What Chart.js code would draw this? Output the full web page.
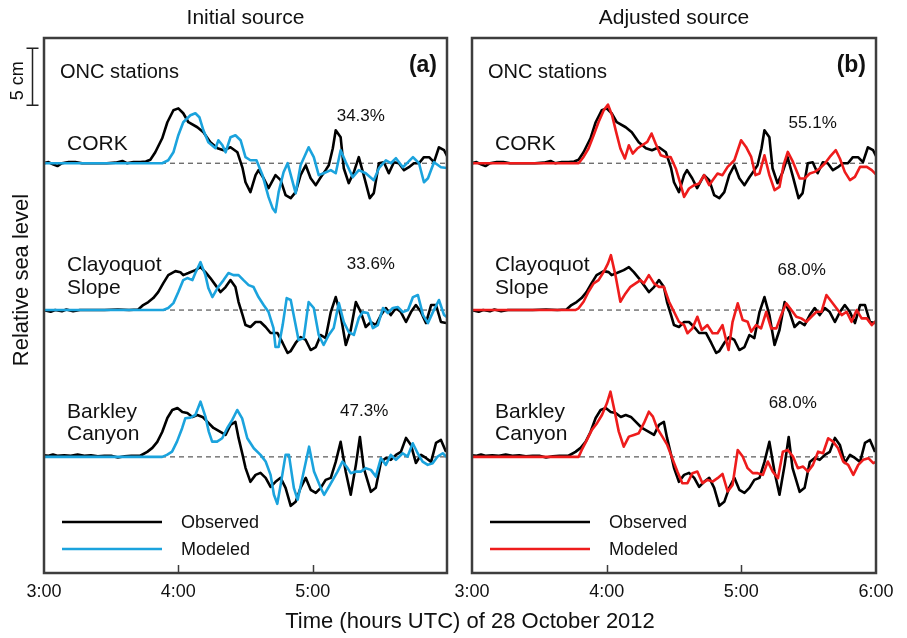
<!DOCTYPE html>
<html>
<head>
<meta charset="utf-8">
<title>ONC stations - observed and modeled sea level</title>
<script src="https://cdn.jsdelivr.net/npm/chart.js@4.4.0/dist/chart.umd.min.js"></script>
<style>
  body { margin: 0; background: #fff; }
  #wrap { position: relative; width: 907px; height: 638px; }
  #wrap canvas { position: absolute; left: 0; top: 0; }
</style>
</head>
<body>
<div id="wrap">
  <canvas id="panelA" width="907" height="638"></canvas>
  <canvas id="panelB" width="907" height="638"></canvas>
</div>

<script>
  // time in minutes after 3:00 UTC, sea level in cm (relative to each station's zero)
  const hours = ['3:00', '4:00', '5:00', '6:00'];
  const stationNames = [['CORK'], ['Clayoquot', 'Slope'], ['Barkley', 'Canyon']];
  const fitInitial = ['34.3%', '33.6%', '47.3%'];
  const fitAdjusted = ['55.1%', '68.0%', '68.0%'];

  const corkObserved = [[0,0],[2,0.1],[4,-0.1],[6,-0.25],[8,0],[11,0.1],[14,0.1],[17,0],[22,0],[28,0],[32,0.05],[35,0.2],[37,0],[40,0.1],[43,0.1],
    [45.5,0.15],[47.5,0.3],[49.7,0.96],[52.8,2.19],[55.1,3.6],[57.8,4.65],[60,4.82],[62.2,4.39],[64.5,3.6],[68.5,3.16],[71.2,2.72],[74.3,1.84],
    [77.5,1.32],[80.2,1.14],[83.3,1.4],[86.4,0.96],[88.7,-0.44],[90,-1.67],[92.2,-2.54],[94.5,-1.05],[95.8,-0.61],[98.1,-1.32],[100.3,-2.19],
    [103.4,-1.05],[105.7,-1.49],[107.9,-2.81],[110.2,-3.07],[112.4,-2.54],[114.6,-1.05],[116.9,-0.18],[119.1,-1.32],[121.4,-1.93],[123.6,-1.23],
    [125.8,-0.61],[127.2,-0.18],[129,1.32],[130.3,2.89],[132.5,2.28],[133.9,-0.44],[136.1,-1.75],[138.4,-0.79],[140.6,0.53],[142.8,-1.05],
    [145.5,-3.07],[147.3,-2.63],[149.6,0],[151.8,0.09],[154,-0.88],[156.3,0.09],[158.5,0],[160.8,-0.61],[163,-0.35],[165.2,0],[167.5,0],
    [169.7,0.53],[172,0.53],[174.2,0.09],[176.4,1.4],[178.7,1.14],[180.5,0.44]];

  const clayObserved = [[0,0],[3,-0.15],[5,0],[8,-0.1],[10,0.05],[13,-0.1],[16,0],[20,0],[27,0],[33,0.05],[38,0],[42.1,0.05],[44.3,0.44],
    [46.6,0.7],[48.8,1.05],[51,1.58],[53.3,2.37],[55.5,3.07],[58.7,3.42],[60.9,3.33],[62.2,3.07],[64.5,3.25],[67.6,3.51],[69.9,3.77],[72.1,3.33],
    [74.3,2.81],[76.6,2.19],[78.8,1.58],[81.1,2.02],[83.3,2.63],[85.5,2.02],[86.9,0.7],[88.7,-0.44],[90,-1.32],[92.2,-1.49],[94.5,-1.05],
    [96.7,-1.05],[99,-1.49],[101.2,-2.02],[104.3,-2.02],[106.6,-2.89],[108.8,-3.77],[110.2,-3.6],[112.4,-2.89],[114.6,-2.37],[116.9,-2.63],
    [119.1,-3.51],[121.4,-3.25],[123.6,-2.19],[125.8,-2.46],[128.1,-0.18],[130.3,1.14],[132.5,-0.44],[134.8,-3.07],[137,-1.75],[139.3,0.7],
    [141.5,-0.18],[143.7,-1.49],[146,-1.05],[148.2,-1.32],[150.5,-0.44],[152.7,0.18],[154.9,-0.44],[157.2,0.18],[159.4,-0.18],[161.7,-1.05],
    [163.9,-0.18],[166.1,0.44],[168.4,-0.18],[170.6,-1.14],[172.9,0.44],[175.1,0.44],[177.3,-1.05],[179.6,-1.14]];

  const barkObserved = [[0,0.15],[2,0.1],[4,0.2],[6,0.1],[9,0.15],[12,0.1],[15,0.2],[18,0.1],[21,0.15],[24,0.05],[27,0.1],[30,0.1],[33,-0.05],
    [36,0.05],[39,0.1],[43,0.1],[46.1,0.44],[48.4,0.79],[50.6,1.32],[52.8,2.19],[55.1,3.42],[57.3,4.12],[59.6,4.3],[61.8,3.95],[64,3.86],
    [66.3,3.51],[68.5,3.68],[70.8,3.51],[73,3.07],[75.7,2.54],[78.8,2.19],[81.1,1.93],[83.3,2.81],[85.5,3.07],[86.9,1.67],[88.7,0.18],[90,-0.96],
    [92.2,-2.19],[94.5,-1.58],[96.7,-1.4],[99,-1.84],[101.2,-2.63],[103.4,-2.19],[105.7,-1.84],[107.9,-2.72],[110.2,-4.3],[112.4,-3.95],
    [114.6,-2.72],[116.9,-1.84],[119.1,-2.89],[121.4,-3.16],[123.6,-2.72],[125.8,-2.02],[128.1,-1.84],[130.3,-0.44],[132.5,1.32],[134.8,-1.32],
    [137,-3.33],[139.3,-0.7],[141.1,1.75],[142.8,-0.96],[146,-3.07],[148.2,-2.72],[150.5,-0.44],[152.7,-0.09],[154.9,-0.26],[157.2,0.18],
    [159.4,0.44],[161.7,1.67],[163.9,1.05],[166.1,-0.53],[168.4,0.18],[170.6,-0.09],[172.9,-0.44],[175.1,1.23],[177.3,1.49],[179.6,0.44]];

  // (a) initial source
  const corkInitial = [[0,0],[52.8,0],[55.5,0.26],[57.8,0.96],[60,2.46],[62.2,3.6],[65.4,4.21],[67.6,4.39],[69.4,4.04],[71.2,2.89],[73.4,1.84],
    [76.6,1.32],[77.9,2.02],[79.7,1.58],[81.1,0.96],[83.3,2.28],[85.5,2.46],[87.8,2.02],[90,0.53],[92.2,0.26],[94.9,0.26],[97.6,-1.05],
    [100.3,-2.98],[102.1,-3.95],[103.4,-4.3],[104.8,-2.54],[107,-0.79],[108.8,0],[112.4,-2.63],[114.6,-0.18],[118.2,1.4],[120.5,0.53],
    [122.7,-1.05],[124.9,-0.88],[128.1,-0.61],[130.3,-0.88],[132.5,1.14],[134.8,0.09],[137.9,-1.23],[140.6,-0.61],[143.7,-0.88],[147.3,-1.49],
    [149.6,-0.44],[152.7,0.26],[154.9,0],[157.2,0.44],[160.3,-0.35],[162.6,0.09],[164.8,0.53],[167.5,0],[169.7,-1.67],[171.5,-1.32],
    [174.2,0.09],[177.3,-0.35],[180.5,-0.44]];

  const clayInitial = [[0,0],[53.3,0],[55.5,0.18],[57.8,0.61],[60,1.58],[62.2,2.63],[64,2.81],[66.3,2.63],[67.6,3.25],[69.9,4.21],[72.1,3.07],
    [73.4,1.93],[75.2,1.14],[77.5,1.93],[80.2,2.63],[82.4,3.25],[84.6,3.07],[86.9,3.07],[89.1,2.63],[91.4,2.19],[93.6,2.02],[95.8,1.14],
    [98.1,0.44],[100.3,-0.18],[102.5,-1.58],[103.4,-3.25],[104.8,-3.25],[106.6,-1.32],[108.4,1.05],[110.2,0.88],[113.7,-2.63],[116,-2.46],
    [118.2,0.7],[120.5,0.18],[122.7,-2.19],[124.9,-3.07],[127.2,-2.19],[129.4,-1.58],[131.7,0.61],[133.9,-1.05],[136.1,-1.93],[138.4,-2.19],
    [140.6,-0.7],[142.4,-0.18],[144.6,-0.26],[146.9,-1.58],[149.1,-1.32],[151.4,0.18],[153.6,-0.26],[155.8,0.18],[158.1,0.26],[160.3,-0.18],
    [162.6,0],[164.8,1.14],[167,1.32],[169.3,-0.44],[171.5,-1.14],[173.7,-0.18],[176.4,0.88],[178.7,-0.44],[180.5,-0.7]];

  const barkInitial = [[0,0],[52.8,0],[54.9,0.18],[57.2,0.46],[59.4,1.34],[61.7,2.52],[63.1,3.39],[65.4,3.45],[67.6,3.68],[69.9,4.85],
    [72.1,3.54],[73.6,2.22],[75.1,1.34],[77.3,1.34],[79.6,1.64],[81.8,2.52],[84.1,3.25],[86.3,4.12],[88.5,3.39],[90.8,1.64],[93.7,0.76],
    [96.7,0.18],[99,-0.41],[101.2,-1.58],[102.7,-3.33],[104.2,-4.12],[105.7,-2.46],[107.9,0.18],[109.4,0.18],[111.6,-2.72],[113.3,-3.77],
    [118.4,0.9],[120.6,-1.29],[123.6,-2.72],[125.1,-3.33],[127.3,-2.6],[131.1,-1.29],[133.3,-0.41],[135.6,-0.99],[137,-1.43],[139.3,-1.29],
    [141.5,-1.29],[143.7,-0.99],[146,-1.14],[148.2,-1.73],[150.5,-0.11],[152.7,-0.7],[154.9,0.18],[157.2,-0.26],[160.2,0.32],[162.4,0.03],
    [164.7,1.2],[166.9,0.32],[169.1,-0.41],[171.4,-0.7],[173.6,-0.55],[175.8,0.03],[178.1,0.32],[180.3,-0.11]];

  // (b) adjusted source
  const corkAdjusted = [[0,0],[47.5,0],[49.7,0.55],[51.9,1.29],[54.2,2.46],[56.4,3.62],[58.7,4.65],[60.6,5.15],[62.4,4.21],[64.2,2.75],
    [66.1,1.29],[68.1,0.41],[69.9,1.58],[71.6,0.85],[73.6,1.29],[75.8,1.58],[78.1,1.87],[80,2.61],[81.8,1.73],[84.1,0.7],[86.3,0.55],[88.5,0.55],
    [90.8,-0.46],[92.6,-1.64],[94.5,-2.96],[96.7,-2.22],[99,-1.93],[101.2,-1.78],[103.4,-1.05],[105.7,-1.93],[107.2,-1.49],[109.4,-0.9],
    [111.6,-1.05],[113.9,-0.32],[116.9,0.26],[118.4,1.14],[119.9,2.02],[122.1,1.43],[124.4,0.55],[126.3,-1.05],[128.1,-0.9],[130.3,0.7],
    [132.5,-1.05],[134.8,-2.37],[137,-2.08],[138.8,-0.18],[140.7,0.99],[143,0.11],[146,-1.34],[148.2,-1.34],[150.5,-0.9],[152.7,-0.76],
    [154.9,-0.46],[157.2,-0.03],[159.4,0.55],[162.1,1.14],[163.9,0.41],[166.1,-0.76],[168.4,-1.49],[170.6,-1.2],[172.9,-0.32],[175.9,-0.32],
    [178.1,-0.61],[180.3,-1.05]];

  const clayAdjusted = [[0,0],[46,0],[47.5,0.15],[49.7,0.73],[51.9,1.61],[54.2,2.34],[56.4,2.63],[58.7,3.36],[60.6,4.1],[61.9,4.82],[63.9,3.07],
    [66.1,0.73],[68.4,1.46],[70.6,2.04],[72.9,2.34],[75.1,2.63],[76.6,2.34],[78.8,3.07],[81.1,2.34],[83.3,2.04],[85.5,2.04],[87.8,0.73],
    [90,-0.15],[92.2,-1.03],[94.5,-1.32],[96,-2.04],[98.2,-1.61],[100.4,-0.59],[102.4,-1.75],[104.9,-1.32],[107.2,-2.04],[109.4,-2.04],
    [111.6,-1.32],[114.3,-3.51],[116.1,-1.03],[118.4,0.59],[120.6,-0.88],[122.8,-1.03],[124.4,-1.9],[126.6,-1.32],[128.8,-1.61],[131.1,-0.15],
    [133.3,-1.61],[135.6,-1.61],[137.8,-0.44],[140,0.59],[142.3,0],[144.5,-0.59],[146.7,-0.73],[149,-1.03],[151.2,-0.59],[153.5,-0.15],
    [155.7,-0.15],[157.9,1.32],[160.2,0.73],[162.4,0.15],[164.7,-0.44],[166.9,-0.15],[169.1,-1.03],[171.4,0],[173.6,-0.73],[175.9,-0.73],
    [178.1,-1.32],[180.3,-0.88]];

  const barkAdjusted = [[0,0],[47.5,0],[48.9,0.61],[51.2,1.49],[53.4,2.37],[55.7,2.96],[57.9,3.68],[60.1,4.71],[61.7,5.73],[63.6,3.97],
    [65.4,2.22],[67.6,0.9],[69.9,1.78],[72.1,1.93],[74.3,2.08],[76.6,2.96],[78.8,3.97],[80.6,3.54],[82.5,2.52],[84.8,1.78],[87,1.05],
    [89.2,-0.11],[91.5,-1.29],[93.7,-2.31],[96,-2.31],[98.2,-1.43],[100.4,-1.29],[102.7,-2.31],[104.9,-2.02],[107.2,-2.17],[109.4,-1.87],
    [111.6,-1.5],[113.9,-3.04],[116.1,-2.46],[118.4,0.61],[120.6,0.03],[122.8,-0.99],[125.1,-1.43],[127.3,-1.43],[129.6,-1.58],[131.8,-0.41],
    [134,-1.29],[136.3,-1.87],[138.5,0.46],[140.7,0.61],[143,0.03],[145.2,-0.99],[147.5,-0.85],[149.7,-1.29],[151.9,-0.7],[154.2,0.46],
    [156.4,0.32],[158.7,1.64],[160.9,1.34],[163.1,0.76],[165.4,-0.41],[167.6,-0.7],[169.9,-1.58],[172.1,-0.7],[174.3,-0.26],[176.6,-0.11],
    [178.8,-0.55],[180.3,-0.41]];

  const observed = [corkObserved, clayObserved, barkObserved];

  // vertical offsets (cm) used to stack the three stations
  const levels = [36.0, 23.1, 10.2];
  const FONT = '"Liberation Sans", Arial, sans-serif';
  const FRAME = '#3d3d3d';

  function shift(points, off) {
    return points.map(p => ({x: p[0], y: p[1] + off}));
  }

  function buildDatasets(models, color) {
    let sets = [];
    models.forEach((m, i) => sets.push({label: 'Modeled', data: shift(m, levels[i]), borderColor: color, borderWidth: 2.6}));
    observed.forEach((o, i) => sets.push({label: 'Observed', data: shift(o, levels[i]), borderColor: '#000', borderWidth: 2.6}));
    levels.forEach(l => sets.push({label: 'zero', data: [{x: 0, y: l}, {x: 180, y: l}], borderColor: '#333', borderWidth: 1, borderDash: [5, 4]}));
    return sets;
  }

  const decor = {
    id: 'decor',
    afterDatasetsDraw(chart, args, opts) {
      const ctx = chart.ctx;
      const a = chart.chartArea;
      const x = chart.scales.x;
      const y = chart.scales.y;
      ctx.save();

      // frame and inward ticks
      ctx.strokeStyle = FRAME;
      ctx.lineWidth = 2.5;
      ctx.strokeRect(a.left, a.top, a.right - a.left, a.bottom - a.top);
      ctx.lineWidth = 1.5;
      for (const v of [60, 120]) {
        const px = Math.round(x.getPixelForValue(v)) + 0.5;
        ctx.beginPath();
        ctx.moveTo(px, a.bottom);
        ctx.lineTo(px, a.bottom - 8);
        ctx.stroke();
      }

      ctx.fillStyle = '#111';
      ctx.textBaseline = 'middle';

      // panel heading above the frame
      ctx.textAlign = 'center';
      ctx.font = '21px ' + FONT;
      ctx.fillText(opts.heading, (a.left + a.right) / 2, 18);

      // panel letter and group label
      ctx.textAlign = 'right';
      ctx.font = 'bold 23px ' + FONT;
      ctx.fillText(opts.letter, a.right - 10, a.top + 28);
      ctx.textAlign = 'left';
      ctx.font = '20px ' + FONT;
      ctx.fillText('ONC stations', a.left + 16, a.top + 34);

      // station names and fit percentages
      stationNames.forEach((names, i) => {
        ctx.textAlign = 'left';
        ctx.font = '21px ' + FONT;
        if (names.length === 1) {
          ctx.fillText(names[0], a.left + 23, y.getPixelForValue(levels[i] + 1.67));
        } else {
          ctx.fillText(names[0], a.left + 23, y.getPixelForValue(levels[i] + 3.95));
          ctx.fillText(names[1], a.left + 23, y.getPixelForValue(levels[i] + 1.95));
        }
        const p = opts.fitPos[i];
        ctx.textAlign = 'center';
        ctx.font = '17px ' + FONT;
        ctx.fillText(opts.fit[i], x.getPixelForValue(p[0]), y.getPixelForValue(levels[i] + p[1]));
      });

      // legend
      const rows = [['Observed', '#000'], ['Modeled', opts.color]];
      rows.forEach((r, i) => {
        const ly = a.bottom - 51 + i * 27;
        ctx.strokeStyle = r[1];
        ctx.lineWidth = 2.6;
        ctx.beginPath();
        ctx.moveTo(a.left + 18, ly);
        ctx.lineTo(a.left + 118, ly);
        ctx.stroke();
        ctx.textAlign = 'left';
        ctx.font = '18px ' + FONT;
        ctx.fillText(r[0], a.left + 137, ly + 1);
      });

      if (opts.sideLabels) {
        // 5 cm scale bar tied to the y scale
        const top = y.getPixelForValue(46.1);
        const bot = y.getPixelForValue(41.1);
        const bx = 32.5;
        ctx.strokeStyle = '#222';
        ctx.lineWidth = 1.5;
        ctx.beginPath();
        ctx.moveTo(bx, top); ctx.lineTo(bx, bot);
        ctx.moveTo(bx - 6, top); ctx.lineTo(bx + 6, top);
        ctx.moveTo(bx - 6, bot); ctx.lineTo(bx + 6, bot);
        ctx.stroke();

        ctx.save();
        ctx.translate(18, (top + bot) / 2 + 4);
        ctx.rotate(-Math.PI / 2);
        ctx.textAlign = 'center';
        ctx.font = '18px ' + FONT;
        ctx.fillText('5 cm', 0, 0);
        ctx.restore();

        ctx.save();
        ctx.translate(22, 280);
        ctx.rotate(-Math.PI / 2);
        ctx.textAlign = 'center';
        ctx.font = '22px ' + FONT;
        ctx.fillText('Relative sea level', 0, 0);
        ctx.restore();

        ctx.textAlign = 'center';
        ctx.font = '22px ' + FONT;
        ctx.fillText('Time (hours UTC) of 28 October 2012', 470, 622);
      }
      ctx.restore();
    }
  };

  function makeChart(id, models, color, padding, showLast, decorOpts) {
    return new Chart(document.getElementById(id), {
      type: 'line',
      data: {datasets: buildDatasets(models, color)},
      options: {
        responsive: false,
        animation: false,
        events: [],
        layout: {padding: padding},
        elements: {
          point: {radius: 0},
          line: {tension: 0, borderJoinStyle: 'round', fill: false}
        },
        scales: {
          x: {
            type: 'linear', min: 0, max: 180,
            afterBuildTicks: s => { s.ticks = [0, 60, 120, 180].map(v => ({value: v})); },
            afterFit: s => { s.height = 40; },
            grid: {display: false, drawTicks: false},
            border: {display: false},
            ticks: {
              autoSkip: false, maxRotation: 0, padding: 8, color: '#111',
              font: {family: FONT, size: 18},
              callback: v => (v === 180 && !showLast) ? '' : hours[v / 60]
            }
          },
          y: {display: false, min: 0, max: 47}
        },
        plugins: {
          legend: {display: false},
          tooltip: {enabled: false},
          decor: Object.assign({color: color}, decorOpts)
        }
      },
      plugins: [decor]
    });
  }

  makeChart('panelA', [corkInitial, clayInitial, barkInitial], '#1ba3dd',
    {left: 44, right: 460, top: 38, bottom: 25}, false,
    {heading: 'Initial source', letter: '(a)', fit: fitInitial, fitPos: [[141.5, 4.1], [146, 4.0], [143, 4.0]], sideLabels: true});

  makeChart('panelB', [corkAdjusted, clayAdjusted, barkAdjusted], '#ee1c1c',
    {left: 472, right: 31, top: 38, bottom: 25}, true,
    {heading: 'Adjusted source', letter: '(b)', fit: fitAdjusted, fitPos: [[151.8, 3.5], [146.9, 3.5], [142.9, 4.7]], sideLabels: false});
</script>
</body>
</html>
